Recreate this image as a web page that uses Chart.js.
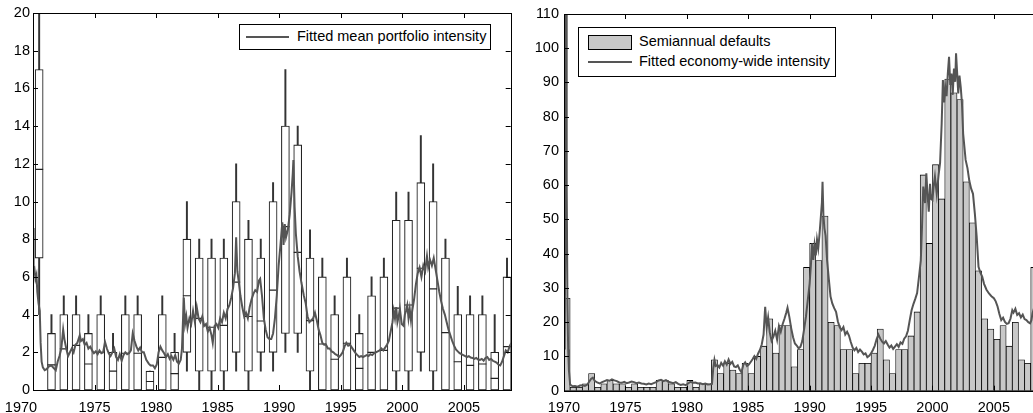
<!DOCTYPE html>
<html>
<head>
<meta charset="utf-8">
<script src="https://cdn.jsdelivr.net/npm/chart.js@4.4.1/dist/chart.umd.min.js"></script>
<style>
  html, body { margin: 0; padding: 0; background: #fff; overflow: hidden; width: 1033px; height: 413px; }
  .panel { position: absolute; top: 0; height: 413px; }
  .legend { position: absolute; box-sizing: border-box; border: 1px solid #000; background: #fff;
            font-family: "Liberation Sans", Arial, Helvetica, sans-serif; font-size: 14.5px; color: #000; }
  .legend span { position: absolute; white-space: nowrap; }
  .legend .ln { height: 2px; background: #555; }
  .legend .sw { box-sizing: border-box; border: 1px solid #000; background: #c8c8c8; }
</style>
</head>
<body>
<div class="panel" style="left:0;width:520px"><canvas id="portfolio" width="520" height="413"></canvas></div>
<div class="panel" style="left:524px;width:535px"><canvas id="economy" width="535" height="413"></canvas></div>

<div class="legend" style="left:239px;top:24px;width:252px;height:26px">
  <span class="ln" style="left:6px;top:11px;width:43px"></span>
  <span style="left:57px;top:3px">Fitted mean portfolio intensity</span>
</div>
<div class="legend" style="left:578px;top:27px;width:258px;height:50px">
  <span class="sw" style="left:9px;top:7px;width:44px;height:15px"></span>
  <span style="left:60px;top:5px">Semiannual defaults</span>
  <span class="ln" style="left:9px;top:33px;width:44px"></span>
  <span style="left:60px;top:25px">Fitted economy-wide intensity</span>
</div>

<script>
// ---- axis ticks ----
const yearTicks = [1970, 1975, 1980, 1985, 1990, 1995, 2000, 2005];
const portfolioTicks = [0, 2, 4, 6, 8, 10, 12, 14, 16, 18, 20];
const defaultsTicks = [0, 10, 20, 30, 40, 50, 60, 70, 80, 90, 100, 110];

// ---- yearly box plots of portfolio defaults ----
const boxYears  = [1970,1971,1972,1973,1974,1975,1976,1977,1978,1979,1980,1981,1982,1983,1984,1985,1986,1987,1988,1989,
                   1990,1991,1992,1993,1994,1995,1996,1997,1998,1999,2000,2001,2002,2003,2004,2005,2006,2007,2008];
const boxMin    = [4,0,0,0,0,0,0,0,0,0,0,0,1,0,0,0,1,0,1,1,
                   2,2,0,0,0,0,0,0,0,0,0,1,0,0,0,0,0,0,0];
const boxQ1     = [7,0,0,0,0,0,0,0,0,0,0,0,2,1,1,1,2,1,2,2,
                   3,3,1,0,0,0,0,0,0,1,1,2,1,0,0,0,0,0,0];
const boxMedian = [11.7,1.33,2.18,2.37,1.38,2.0,1.0,1.95,1.95,0.45,1.73,0.87,5.0,3.8,3.33,3.43,5.72,3.9,3.66,5.3,
                   8.67,7.3,3.68,2.44,1.63,2.48,1.15,2.0,2.1,4.34,4.51,6.46,5.36,3.04,1.5,1.31,1.38,0.62,2.3];
const boxQ3     = [17,3,4,4,3,4,2,4,4,1,4,2,8,7,7,7,10,8,7,10,
                   14,13,7,6,4,6,3,5,6,9,9,11,10,7,4,4,4,2,6];
const boxMax    = [22,4,5,5,4,5,3,5,5,1,5,3,10,8,8,8,12,9,8,11,
                   17,14,8.5,7,5,7,4,6,7,10.5,10.5,13.5,12,8,5.5,5,5,4,7];

// ---- fitted mean portfolio intensity ----
const portfolioT = [1970.00,1970.05,1970.12,1970.20,1970.28,1970.35,1970.45,1970.55,1970.62,1970.70,1970.80,1970.95,
  1971.10,1971.30,1971.50,1971.70,1971.85,1972.00,1972.15,1972.30,1972.45,1972.55,1972.70,1972.85,
  1973.00,1973.15,1973.30,1973.45,1973.60,1973.80,1973.90,1974.05,1974.20,1974.35,1974.50,1974.65,1974.80,1974.95,
  1975.10,1975.25,1975.40,1975.55,1975.70,1975.85,1976.00,1976.15,1976.30,1976.45,1976.60,1976.75,1976.90,
  1977.05,1977.20,1977.35,1977.50,1977.65,1977.80,1977.95,1978.10,1978.25,1978.40,1978.55,1978.70,1978.85,
  1979.00,1979.20,1979.40,1979.55,1979.75,1979.90,1980.05,1980.20,1980.35,1980.50,1980.65,1980.80,1980.95,
  1981.10,1981.25,1981.40,1981.55,1981.70,1981.85,1982.00,1982.10,1982.25,1982.35,1982.45,1982.55,1982.70,1982.85,
  1983.00,1983.15,1983.30,1983.45,1983.60,1983.75,1983.90,1984.05,1984.20,1984.35,1984.50,1984.60,1984.75,1984.90,
  1985.05,1985.20,1985.35,1985.50,1985.65,1985.80,1985.95,1986.10,1986.25,1986.40,1986.50,1986.60,1986.70,1986.85,
  1987.00,1987.15,1987.30,1987.45,1987.60,1987.75,1987.90,1988.05,1988.20,1988.35,1988.45,1988.60,1988.75,1988.90,
  1989.05,1989.20,1989.35,1989.50,1989.65,1989.80,1989.95,1990.10,1990.25,1990.35,1990.45,1990.55,1990.70,1990.85,
  1991.00,1991.10,1991.15,1991.25,1991.35,1991.50,1991.65,1991.80,1992.00,1992.15,1992.30,1992.45,1992.60,1992.75,1992.90,
  1993.05,1993.20,1993.35,1993.50,1993.65,1993.80,1993.95,1994.10,1994.25,1994.40,1994.55,1994.70,1994.85,
  1995.00,1995.15,1995.30,1995.45,1995.60,1995.75,1995.90,1996.05,1996.20,1996.35,1996.50,1996.65,1996.80,1996.95,
  1997.10,1997.25,1997.40,1997.55,1997.70,1997.85,1998.00,1998.15,1998.30,1998.45,1998.60,1998.75,1998.90,
  1999.05,1999.20,1999.30,1999.40,1999.50,1999.60,1999.70,1999.80,1999.95,2000.10,2000.20,2000.30,2000.40,2000.50,
  2000.60,2000.70,2000.80,2000.95,2001.10,2001.25,2001.40,2001.55,2001.70,2001.85,2002.00,2002.10,2002.25,2002.40,
  2002.55,2002.70,2002.85,2003.00,2003.15,2003.30,2003.45,2003.60,2003.75,2003.90,2004.05,2004.20,2004.35,2004.50,
  2004.65,2004.80,2004.95,2005.10,2005.25,2005.40,2005.55,2005.70,2005.85,2006.00,2006.15,2006.30,2006.45,2006.60,
  2006.75,2006.90,2007.05,2007.20,2007.35,2007.50,2007.65,2007.80,2007.95,2008.10,2008.25,2008.40,2008.55,2008.70,2008.85];
const portfolioFit = [8.6,6.3,6.4,5.9,6.1,5.2,4.6,4.2,2.5,1.5,1.2,1.05,
  1.1,1.25,1.3,1.15,1.05,1.5,1.8,2.2,3.2,2.7,2.2,1.8,
  2.0,2.2,2.0,2.4,2.5,2.9,2.6,2.7,2.4,2.5,2.2,2.3,2.1,1.95,
  2.05,1.9,2.1,1.95,2.0,2.55,2.2,1.95,1.8,2.0,2.2,1.75,1.6,
  1.9,1.55,1.85,2.0,1.9,1.95,2.1,3.0,2.6,2.3,2.1,2.25,2.0,
  2.0,1.6,1.4,1.3,1.3,1.15,1.35,2.0,2.3,2.1,1.95,1.75,1.9,
  1.65,1.8,1.6,1.85,1.5,1.4,1.6,2.2,4.9,3.5,3.9,3.3,3.8,3.5,
  4.2,3.6,4.4,3.8,3.6,3.9,3.4,3.5,3.1,3.3,2.9,2.5,3.4,3.5,
  3.3,3.8,3.6,4.1,3.8,4.3,4.5,4.9,5.4,6.2,8.1,6.3,5.8,5.0,
  4.4,3.9,4.1,3.8,4.4,4.8,5.1,5.3,5.2,5.8,5.9,5.0,3.8,3.2,
  2.8,2.7,2.7,3.0,3.8,5.0,6.6,7.7,8.9,7.7,8.8,8.1,8.5,9.3,
  10.5,11.5,12.2,9.7,8.3,7.1,6.3,5.7,5.0,4.6,3.9,3.6,3.7,3.8,4.1,
  3.7,3.2,2.9,2.5,2.4,2.4,2.2,2.2,2.05,2.0,1.9,1.85,1.75,
  1.85,2.0,2.3,2.5,2.35,2.4,2.25,2.1,1.95,1.85,1.75,1.8,1.75,1.8,
  1.85,1.8,1.9,1.85,1.95,2.0,2.05,2.1,2.2,2.1,2.25,2.4,2.6,
  3.1,3.6,4.2,3.8,4.4,3.6,3.9,4.3,3.5,3.4,4.0,4.2,4.5,3.8,
  4.3,3.7,4.2,4.8,5.6,6.2,6.5,6.0,6.6,6.3,7.1,6.5,6.9,6.6,
  7.0,6.4,5.8,5.2,4.7,4.3,4.0,3.6,3.2,2.9,2.6,2.35,2.15,2.05,
  1.95,1.9,1.85,1.8,1.75,1.8,1.72,1.7,1.65,1.7,1.62,1.6,1.65,1.55,
  1.7,1.75,1.6,1.65,1.55,1.5,1.45,1.35,1.3,1.5,1.8,2.1,2.0,2.3,2.5];

// ---- semiannual default counts, 1970 H1 onward ----
const semiannualDefaults = [27,1,1,2,5,1,2,3,2,2,1,2,1,1,1,3,3,2,1,1,
  3,1,2,2,9,5,8,6,5,8,5,10,13,21,11,19,19,7,12,36,
  43,38,51,20,19,12,12,5,8,8,11,18,9,5,12,12,16,23,63,43,
  66,56,91,87,85,61,49,35,21,18,15,19,13,20,9,8,36];

// ---- fitted economy-wide intensity ----
const economyT = [1970.00,1970.06,1970.12,1970.17,1970.22,1970.28,1970.34,1970.40,1970.50,1970.70,1970.90,
  1971.10,1971.30,1971.50,1971.70,1971.90,1972.05,1972.20,1972.35,1972.50,1972.70,1972.90,
  1973.10,1973.30,1973.50,1973.70,1973.90,1974.10,1974.30,1974.50,1974.70,1974.90,
  1975.10,1975.30,1975.50,1975.70,1975.90,1976.10,1976.30,1976.50,1976.70,1976.90,
  1977.10,1977.30,1977.50,1977.70,1977.90,1978.10,1978.30,1978.50,1978.70,1978.90,
  1979.10,1979.30,1979.50,1979.70,1979.90,1980.10,1980.30,1980.50,1980.70,1980.90,
  1981.10,1981.30,1981.50,1981.70,1981.90,1982.05,1982.15,1982.25,1982.35,1982.50,1982.65,1982.80,1982.95,
  1983.10,1983.25,1983.40,1983.55,1983.70,1983.85,1984.00,1984.15,1984.30,1984.45,1984.60,1984.75,1984.90,
  1985.05,1985.20,1985.35,1985.50,1985.65,1985.80,1985.95,1986.10,1986.25,1986.38,1986.50,1986.62,1986.75,1986.90,
  1987.05,1987.20,1987.35,1987.50,1987.65,1987.80,1987.95,1988.10,1988.20,1988.35,1988.50,1988.65,1988.80,1988.95,
  1989.10,1989.25,1989.40,1989.55,1989.70,1989.85,1990.00,1990.10,1990.20,1990.30,1990.40,1990.50,1990.60,1990.70,
  1990.80,1990.90,1991.00,1991.05,1991.12,1991.20,1991.30,1991.42,1991.55,1991.70,1991.85,1992.00,1992.15,1992.30,
  1992.45,1992.60,1992.75,1992.90,1993.05,1993.20,1993.35,1993.50,1993.65,1993.80,1993.95,1994.10,1994.25,1994.40,
  1994.55,1994.70,1994.85,1995.00,1995.15,1995.30,1995.45,1995.60,1995.75,1995.90,1996.05,1996.20,1996.35,1996.50,
  1996.65,1996.80,1996.95,1997.10,1997.25,1997.40,1997.55,1997.70,1997.85,1998.00,1998.15,1998.30,1998.45,1998.60,
  1998.75,1998.90,1999.05,1999.15,1999.25,1999.40,1999.50,1999.60,1999.70,1999.80,1999.90,2000.00,2000.10,2000.20,
  2000.35,2000.50,2000.62,2000.75,2000.85,2000.95,2001.05,2001.15,2001.25,2001.35,2001.45,2001.55,2001.65,2001.75,
  2001.85,2001.92,2002.00,2002.10,2002.20,2002.30,2002.40,2002.50,2002.60,2002.70,2002.85,2003.00,2003.15,2003.30,
  2003.45,2003.60,2003.75,2003.90,2004.05,2004.20,2004.40,2004.60,2004.80,2005.00,2005.15,2005.30,2005.45,2005.60,
  2005.75,2005.90,2006.05,2006.20,2006.35,2006.50,2006.60,2006.75,2006.90,2007.05,2007.20,2007.35,2007.50,2007.65,
  2007.80,2007.95,2008.05,2008.15,2008.30];
const economyFit = [16.7,12,60,115,60,25,12,6,1.8,1.3,1.4,
  1.2,1.5,1.6,1.4,1.8,2.6,3.4,3.8,2.9,2.4,2.1,
  2.5,2.8,3.1,2.9,3.3,3.0,2.8,2.4,2.3,2.6,
  2.2,2.4,2.7,2.5,2.2,2.4,2.1,2.0,1.8,2.1,
  1.9,2.2,2.5,3.0,3.2,2.8,3.1,2.6,2.4,2.2,
  2.5,2.0,1.7,1.9,1.6,2.1,2.6,2.3,2.4,2.1,
  2.2,1.9,2.1,1.8,1.9,2.0,6.5,9.0,7.2,7.5,6.8,8.1,7.3,
  8.6,7.6,9.1,7.8,8.4,7.1,6.9,7.4,6.2,5.4,7.6,8.3,7.2,
  7.6,8.4,9.2,10.1,9.3,10.8,11.9,13.5,16.4,24.5,18.5,21.4,17.1,14.6,
  15.8,17.5,14.9,18.9,17.2,19.4,21.0,22.8,24.2,21.5,18.2,15.6,13.8,13.2,
  12.4,12.8,14.5,18.0,21.6,26.5,31.3,36.5,43.0,38.2,42.5,39.5,44.1,41.6,
  45.5,50.2,55.0,61.0,51.3,47.5,45.2,38.1,33.0,27.5,25.4,24.1,23.0,20.2,
  18.5,17.7,18.6,16.4,17.2,16.1,14.2,12.6,11.8,12.5,11.3,12.0,11.4,10.6,
  10.9,9.8,10.2,10.9,11.9,13.1,15.0,16.4,15.2,14.3,13.8,14.5,13.5,12.6,
  13.2,12.2,12.9,13.6,12.8,14.1,13.7,15.2,15.9,17.5,20.6,23.5,25.3,26.8,
  28.5,33.2,38.0,48.0,59.6,54.8,63.5,57.2,52.3,60.4,56.0,55.7,59.8,62.5,
  57.4,63.0,66.5,78.0,90.7,84.2,88.5,86.0,92.6,97.5,89.3,92.6,86.4,94.1,
  90.2,98.5,93.4,86.8,92.0,88.7,84.0,75.0,71.2,67.4,65.0,61.3,59.0,57.5,
  51.8,45.0,36.2,34.5,33.3,31.2,29.5,28.4,27.6,27.0,26.1,24.6,22.4,20.6,
  21.3,20.1,19.5,19.7,21.0,23.5,22.8,23.9,22.1,22.6,21.4,22.2,20.9,20.6,
  20.0,19.7,20.5,22.6,24.5];

// ---- shared styling ----
Chart.defaults.font.family = '"Liberation Sans", Arial, Helvetica, sans-serif';
Chart.defaults.font.size = 14.5;
Chart.defaults.color = '#000';

// Closed frame with inward tick marks on all four sides.
const boxedAxes = {
  id: 'boxedAxes',
  afterDatasetsDraw(chart) {
    const { ctx, chartArea: a, scales: { x, y } } = chart;
    const L = 5;
    ctx.save();
    ctx.strokeStyle = '#000';
    ctx.lineWidth = 1;
    ctx.beginPath();
    x.ticks.forEach(t => {
      const px = Math.round(x.getPixelForValue(t.value)) + 0.5;
      ctx.moveTo(px, a.bottom); ctx.lineTo(px, a.bottom - L);
      ctx.moveTo(px, a.top); ctx.lineTo(px, a.top + L);
    });
    y.ticks.forEach(t => {
      const py = Math.round(y.getPixelForValue(t.value)) + 0.5;
      ctx.moveTo(a.left, py); ctx.lineTo(a.left + L, py);
      ctx.moveTo(a.right, py); ctx.lineTo(a.right - L, py);
    });
    ctx.stroke();
    ctx.strokeRect(Math.round(a.left) + 0.5, Math.round(a.top) + 0.5,
                   Math.round(a.right - a.left), Math.round(a.bottom - a.top));
    ctx.restore();
  }
};

// Nudges the first year label sideways (it sits at the panel's left edge).
const firstYearLabelShift = {
  id: 'firstYearLabelShift',
  beforeDraw(chart, args, opts) {
    const items = chart.scales.x.getLabelItems();
    if (items.length && !items[0].shifted) {
      items[0].options.translation[0] += opts.dx || 0;
      items[0].shifted = true;
    }
  }
};

function yearAxis(max, height) {
  return {
    type: 'linear', min: 1970, max: max, offset: false,
    grid: { display: false, drawTicks: false }, border: { display: false },
    ticks: { padding: 9, maxRotation: 0, autoSkip: false, callback: v => String(v) },
    afterBuildTicks: s => { s.ticks = yearTicks.map(v => ({ value: v })); },
    afterFit: s => { s.height = height; }
  };
}
function valueAxis(max, list, width, pad) {
  return {
    type: 'linear', min: 0, max: max,
    grid: { display: false, drawTicks: false }, border: { display: false },
    ticks: { padding: pad, autoSkip: false, callback: v => String(v) },
    afterBuildTicks: s => { s.ticks = list.map(v => ({ value: v })); },
    afterFit: s => { s.width = width; }
  };
}

function baseOptions(extraPlugins) {
  return {
    responsive: false, animation: false, events: [], devicePixelRatio: 1,
    plugins: Object.assign({ legend: { display: false }, tooltip: { enabled: false } }, extraPlugins || {})
  };
}

// Left panel: yearly box plots with the fitted portfolio intensity on top.
new Chart(document.getElementById('portfolio'), {
  type: 'bar',
  data: {
    datasets: [
      { type: 'line', order: 0, data: portfolioT.map((t, i) => ({ x: t, y: portfolioFit[i] })),
        borderColor: '#555', borderWidth: 2, pointRadius: 0, tension: 0 },
      { type: 'line', order: 1, showLine: false,
        data: boxYears.map((yr, i) => ({ x: yr + 0.5, y: boxMedian[i] })),
        pointStyle: 'line', pointRadius: 4, pointBorderColor: '#222', pointBorderWidth: 1.2 },
      { type: 'bar', order: 2, grouped: false, barThickness: 8,
        data: boxYears.map((yr, i) => ({ x: yr + 0.5, y: [boxQ1[i], boxQ3[i]] })),
        backgroundColor: '#fff', borderColor: '#222', borderWidth: 1.1, borderSkipped: false },
      { type: 'bar', order: 3, grouped: false, barThickness: 1.3,
        data: boxYears.map((yr, i) => ({ x: yr + 0.5, y: [boxMin[i], boxMax[i]] })),
        backgroundColor: '#333', borderWidth: 0 }
    ]
  },
  options: Object.assign(baseOptions({ firstYearLabelShift: { dx: -12 } }), {
    layout: { padding: { left: 0, right: 9.3, top: 13, bottom: 0 } },
    scales: { x: yearAxis(2008.8, 23), y: valueAxis(20, portfolioTicks, 33, 3) }
  }),
  plugins: [boxedAxes, firstYearLabelShift]
});

// Right panel: semiannual default counts with the fitted economy-wide intensity.
new Chart(document.getElementById('economy'), {
  type: 'bar',
  data: {
    datasets: [
      { type: 'line', order: 0, data: economyT.map((t, i) => ({ x: t, y: economyFit[i] })),
        borderColor: '#555', borderWidth: 2, pointRadius: 0, tension: 0 },
      { type: 'bar', order: 1, grouped: false, categoryPercentage: 1, barPercentage: 1,
        data: semiannualDefaults.map((v, i) => ({ x: 1970.25 + 0.5 * i, y: v })),
        backgroundColor: '#c8c8c8', borderColor: '#000', borderWidth: 0.8, borderSkipped: false }
    ]
  },
  options: Object.assign(baseOptions(), {
    layout: { padding: { left: 0, right: 16, top: 14, bottom: 0 } },
    scales: { x: yearAxis(2009, 22.3), y: valueAxis(110, defaultsTicks, 40, 5) }
  }),
  plugins: [boxedAxes]
});
</script>
</body>
</html>
